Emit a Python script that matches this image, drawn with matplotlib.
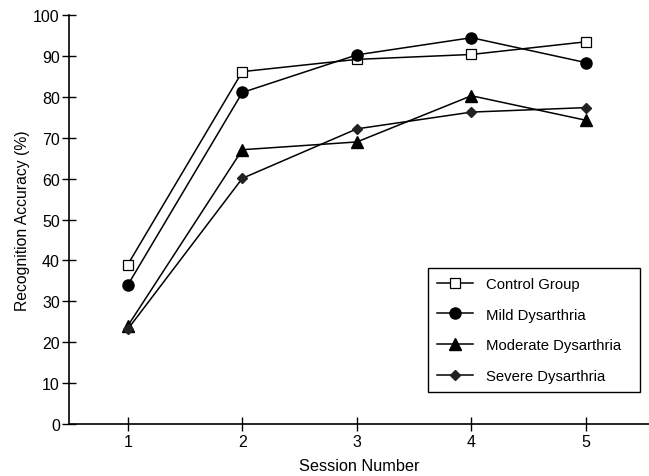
import matplotlib
matplotlib.use("Agg")
import matplotlib.pyplot as plt

plt.rcParams['font.family'] = ['Liberation Sans', 'DejaVu Sans']

sessions = [1, 2, 3, 4, 5]
control = [39, 86.2, 89.2, 90.4, 93.5]
mild = [34, 81.1, 90.3, 94.5, 88.4]
moderate = [24, 67.1, 69.0, 80.3, 74.3]
severe = [23.2, 60.1, 72.2, 76.3, 77.4]

series_names = ['Control Group', 'Mild Dysarthria', 'Moderate Dysarthria', 'Severe Dysarthria']

fig = plt.figure(figsize=(6.49, 4.77), dpi=100)
ax = fig.add_axes([0.106, 0.109, 0.894, 0.857])

ax.plot(sessions, control, color='black', lw=1.1, marker='s', ms=6.5,
        mfc='white', mec='black', mew=0.9, label=series_names[0])
ax.plot(sessions, mild, color='black', lw=1.1, marker='o', ms=8,
        mfc='black', mec='black', label=series_names[1])
ax.plot(sessions, moderate, color='black', lw=1.1, marker='^', ms=8,
        mfc='black', mec='black', label=series_names[2])
ax.plot(sessions, severe, color='black', lw=1.1, marker='D', ms=5.5,
        mfc='#222222', mec='#222222', label=series_names[3])

ax.set_xlim(0.485, 5.55)
ax.set_ylim(0, 100)
ax.set_xticks(sessions)
ax.set_yticks(range(0, 101, 10))

ax.spines['top'].set_visible(False)
ax.spines['right'].set_visible(False)
ax.spines['left'].set_linewidth(1.2)
ax.spines['bottom'].set_linewidth(1.2)
ax.tick_params(axis='x', direction='inout', length=10, width=1, labelsize=11.5, pad=2)
ax.tick_params(axis='y', direction='inout', length=10, width=1, labelsize=11.5, pad=1.5)

ax.set_xlabel('Session Number', fontsize=11.7, labelpad=6.5)
ax.set_ylabel('Recognition Accuracy (%)', fontsize=11.3, labelpad=2.5)

leg = ax.legend(loc='lower left', bbox_to_anchor=(0.619, 0.078, 0.366, 0.316),
                mode='expand', fancybox=False, edgecolor='black', framealpha=1,
                fontsize=10.75, handlelength=2.4, labelspacing=1.12,
                borderpad=0.6, handletextpad=0.9, borderaxespad=0)
leg.get_frame().set_linewidth(1.0)

fig.savefig('out.png', dpi=100)
